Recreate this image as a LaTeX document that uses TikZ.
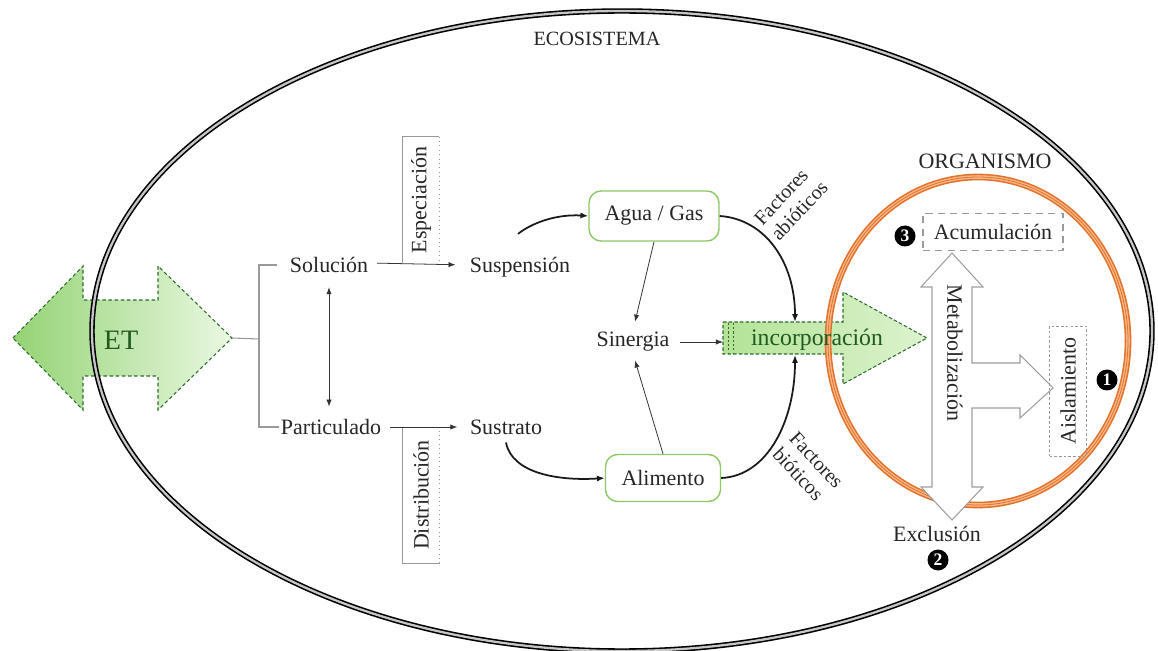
\documentclass[tikz,border=0pt]{standalone}
\usepackage{fontspec}
\setmainfont{Liberation Serif}
\usepackage{graphicx}
\usetikzlibrary{arrows.meta,calc}
\definecolor{etL}{HTML}{94D374}
\definecolor{etR}{HTML}{EAF8E2}
\definecolor{incL}{HTML}{B3E396}
\definecolor{incR}{HTML}{DDF3CF}
\definecolor{dkgreen}{HTML}{2F6B2F}
\definecolor{txtgreen}{HTML}{1F5A1F}
\definecolor{boxgreen}{HTML}{8CC866}
\definecolor{orgA}{HTML}{E2712A}
\definecolor{orgB}{HTML}{F6B888}
\begin{document}
\begin{tikzpicture}[x=0.02cm,y=-0.02cm,
  lbl/.style={font=\fontsize{12.5}{14}\selectfont, text=black!85, inner sep=1pt},
  small/.style={font=\fontsize{11.5}{13}\selectfont, text=black!85, inner sep=1pt},
  arr/.style={-{Latex[length=4pt,width=3pt]}, line width=0.45pt, draw=black!80},
  curv/.style={-{Latex[length=4.5pt,width=3.5pt]}, line width=1pt, draw=black!90},
  brk/.style={draw=gray!80, line width=0.6pt},
  gbox/.style={draw=boxgreen, line width=0.8pt, rounded corners=0.24cm, fill=white,
    font=\fontsize{12.5}{14}\selectfont, text=black!85},
  eco/.style={draw=black, line width=0.9pt, double=gray!45, double distance=1.3pt},
  org/.style={draw=orgA, line width=0.9pt, double=orgB, double distance=2pt},
  num/.style={circle, fill=black, text=white, inner sep=0pt, minimum size=0.42cm,
    font=\fontsize{10}{10}\selectfont\bfseries},
  vbox/.style={inner sep=0pt, font=\fontsize{12.5}{14}\selectfont, text=black!85}
]
\useasboundingbox (0,0) rectangle (1158,651);

% ET double arrow
\path[left color=etL, right color=etR, draw=dkgreen, line width=0.6pt, dash pattern=on 2pt off 1.5pt]
  (13,338) -- (83,266) -- (83,300) -- (158,300) -- (158,266) -- (232,338)
  -- (158,410) -- (158,376) -- (83,376) -- (83,410) -- cycle;
\coordinate (ETtip) at (232,338);

% incorporacion arrow
\path[left color=incL, right color=incR, draw=dkgreen, line width=0.6pt, dash pattern=on 2pt off 1.2pt]
  (723,322) -- (843,322) -- (843,292) -- (927,338) -- (843,384) -- (843,354) -- (723,354) -- cycle;
\draw[dkgreen, line width=0.5pt, dash pattern=on 1.2pt off 1.2pt] (728,323) -- (728,353);
\draw[dkgreen, line width=0.5pt, dash pattern=on 1.2pt off 1.2pt] (733,323) -- (733,353);
\coordinate (incW) at (723,342);
\coordinate (incT) at (795,322);
\coordinate (incB) at (795,355);

% ecosystem ellipse
\draw[eco] (622,331) ellipse [x radius=530, y radius=320];
\node[small] (ecot) at (597,39) {ECOSISTEMA};

% organism ellipse
\draw[org] (978,341) ellipse [x radius=150, y radius=164];
\draw[orgA, line width=0.45pt] (978,341) ellipse [x radius=150, y radius=164];
\node[lbl] (orgt) at (985,161) {ORGANISMO};

% text nodes
\node[font=\fontsize{16}{18}\selectfont, text=txtgreen] (ET) at (121,340) {ET};
\node[font=\fontsize{13.5}{15}\selectfont, text=txtgreen, inner sep=0pt] (inc) at (817,340) {incorporación};

\node[lbl] (sol) at (329,265) {Solución};
\node[lbl] (par) at (331,427) {Particulado};
\node[lbl] (sus) at (520,267) {Suspensión};
\node[lbl] (sust) at (506,427) {Sustrato};
\node[gbox, minimum width=2.6cm, minimum height=1cm] (agua) at (654,216) {Agua / Gas};
\node[gbox, minimum width=2.3cm, minimum height=0.94cm] (alim) at (663,478) {Alimento};
\node[lbl] (sin) at (633,342) {Sinergia};

% bracket
\coordinate (brkc) at (259,339);
\draw[brk] (ETtip) -- (brkc);
\draw[brk] ([xshift=-0.22cm]sol.west) -| (brkc) |- (par.west);

% Solucion <-> Particulado
\draw[arr, {Latex[length=4pt,width=3pt]}-{Latex[length=4pt,width=3pt]}, shorten <=7pt, shorten >=6pt]
  (sol.south) -- (sol.south |- par.north);

% Especiacion / Distribucion boxes
\node[vbox, minimum width=0.72cm, minimum height=2.52cm] (esp) at (421,200) {\rotatebox{90}{Especiación}};
\draw[brk, line width=0.5pt] (esp.south west) -- (esp.north west) -- (esp.north east);
\draw[brk, line width=0.5pt, dotted] (esp.north east) -- (esp.south east);
\node[vbox, minimum width=0.74cm, minimum height=2.72cm] (dist) at (421,495) {\rotatebox{90}{Distribución}};
\draw[brk, line width=0.5pt] (dist.north west) -- (dist.south west) -- (dist.south east);
\draw[brk, line width=0.5pt, dotted] (dist.south east) -- (dist.north east);

% horizontal arrows
\draw[arr, shorten <=4pt, shorten >=7pt] ([yshift=0.04cm]sol.east) -- ([yshift=0.04cm]sus.west);
\draw[arr, shorten <=4pt, shorten >=6pt] (par.east) -- (sust.west);

% curved arrows
\draw[curv] ([shift={(-2,-21)}]sus.north) .. controls (533,222) and (558,214) .. (agua.west);
\draw[curv] ([shift={(0,6)}]sust.south) .. controls (512,474) and (560,481) .. (alim.west);
\draw[curv] (agua.east) .. controls (765,219) and (795,262) .. (incT);
\draw[curv] (alim.east) .. controls (768,476) and (795,420) .. (incB);

% sinergia arrows
\draw[arr, shorten >=5pt] (agua.south) -- (sin.north);
\draw[arr, shorten >=4pt] (alim.north) -- (sin.south);
\draw[arr, shorten <=5pt] (sin.east |- incW) -- (incW);

% factores labels
\node[small, rotate=47, align=left] (fab) at (791,203) {Factores\\abióticos};
\node[small, rotate=-47, align=left] (fbi) at (808,468) {Factores\\bióticos};

% metabolizacion arrow
\path[draw=gray!75, fill=white, line width=0.6pt]
  (952,253) -- (983,287) -- (972,287) -- (972,363) -- (1020,363) -- (1020,355)
  -- (1053,388) -- (1020,418) -- (1020,408) -- (972,408) -- (972,487) -- (983,487)
  -- (952,520) -- (921,487) -- (932,487) -- (932,287) -- (921,287) -- cycle;
\node[vbox] (met) at (955,353) {\rotatebox{-90}{Metabolización}};

% boxes inside organism
\node[lbl, draw=gray!80, line width=0.9pt, dash pattern=on 4pt off 3pt,
  minimum width=2.8cm, minimum height=0.74cm] (acu) at (993,232) {Acumulación};
\node[vbox, draw=gray!80, line width=0.5pt, dash pattern=on 1.5pt off 1.2pt,
  minimum width=0.74cm, minimum height=2.6cm] (ais) at (1068,391) {\rotatebox{90}{Aislamiento}};
\node[lbl] (exc) at (937,534) {Exclusión};

\node[num] (n3) at (905,236) {3};
\node[num] (n1) at (1107,380) {1};
\node[num] (n2) at (938,560) {2};
\end{tikzpicture}
\end{document}
